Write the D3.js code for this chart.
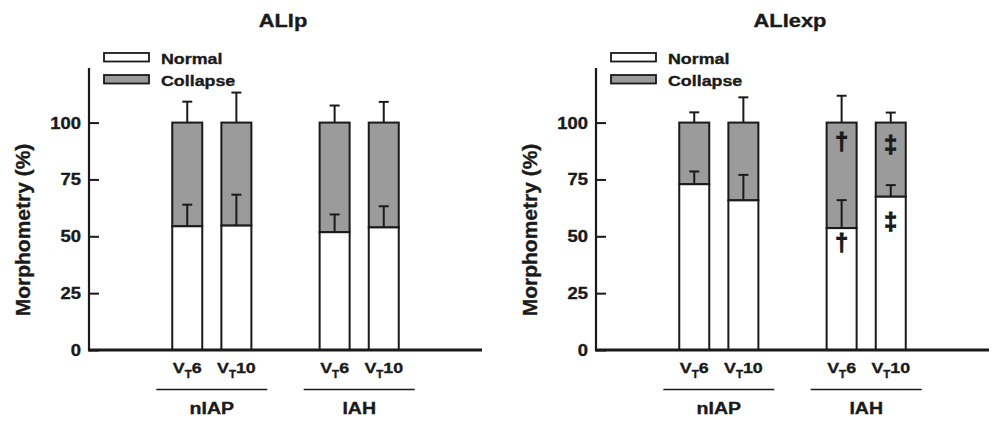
<!DOCTYPE html>
<html>
<head>
<meta charset="utf-8">
<script src="https://cdn.jsdelivr.net/npm/d3@7"></script>
<style>
  body { margin: 0; background: #fff; }
  text { font-family: "Liberation Sans", Arial, Helvetica, sans-serif; font-weight: bold; fill: #1a1a1a; stroke: #1a1a1a; stroke-width: 0.35px; }
</style>
</head>
<body>
<div id="chart"></div>
<script>
// values (percent)
const panelTitles = ["ALIp", "ALIexp"];
const groupNames = ["nIAP", "IAH"];
const volumeLabels = ["6", "10", "6", "10"];
const yTicks = [0, 25, 50, 75, 100];
const legendItems = ["Normal", "Collapse"];

const normalAlip = [54.4, 54.7, 51.8, 53.9];
const normalSdAlip = [9.5, 13.6, 7.8, 9.3];
const collapseSdAlip = [9.2, 13.2, 7.5, 9.1];

const normalAliexp = [72.9, 65.8, 53.6, 67.4];
const normalSdAliexp = [5.6, 11.2, 12.3, 5.1];
const collapseSdAliexp = [4.5, 11.1, 11.8, 4.4];

// significance marks (ALIexp only)
const marksAliexp = ["", "", "\u2020", "\u2021"];
const markNormalPosAliexp = [null, null, 47, 56.4];
const markCollapsePosAliexp = [null, null, 91.6, 90.3];

const panels = [
  { title: panelTitles[0], normal: normalAlip, nSd: normalSdAlip, cSd: collapseSdAlip, marks: null },
  { title: panelTitles[1], normal: normalAliexp, nSd: normalSdAliexp, cSd: collapseSdAliexp,
    marks: marksAliexp, mN: markNormalPosAliexp, mC: markCollapsePosAliexp }
];

const width = 994, height = 421;
const panelLeft = [89, 596];
const plotWidth = 393;
const slots = [2, 3, 5, 6];      // bar positions on the x scale
const groupCenters = [2.5, 5.5];
const ink = "#1a1a1a";
const gray = "#9b9b9b";
const sx = 1.15;                 // horizontal stretch of the printed lettering

const svg = d3.select("#chart").append("svg")
    .attr("width", width)
    .attr("height", height);

const y = d3.scaleLinear().domain([0, 124]).range([350, 68]);
const x = d3.scaleLinear().domain([0, 8]).range([0, plotWidth]);
const barW = 30;

function label(g, tx, ty, str, size, anchor) {
  return g.append("text")
      .attr("transform", `translate(${tx},${ty}) scale(${sx},1)`)
      .attr("text-anchor", anchor || "middle")
      .style("font-size", size + "px")
      .text(str);
}

panels.forEach((p, pi) => {
  const g = svg.append("g").attr("transform", `translate(${panelLeft[pi]},0)`);

  // title
  label(g, 194, 26.5, p.title, 19);

  // y axis
  const yAxis = d3.axisRight(y).tickValues(yTicks).tickSize(10).tickFormat("");
  const ax = g.append("g").call(yAxis);
  ax.select(".domain").remove();
  ax.selectAll(".tick line").attr("stroke", ink).attr("stroke-width", 2);
  g.append("line")
      .attr("x1", 0).attr("x2", 0)
      .attr("y1", y.range()[1]).attr("y2", y(0) + 1.5)
      .attr("stroke", ink).attr("stroke-width", 2.2);
  yTicks.forEach(t => {
    label(g, -8, y(t) + 6, String(t), 16, "end");
  });

  // y label
  g.append("text")
      .attr("transform", "translate(-59,230) rotate(-90)")
      .attr("text-anchor", "middle")
      .style("font-size", "21px")
      .text("Morphometry (%)");

  // legend
  legendItems.forEach((name, i) => {
    g.append("rect")
        .attr("x", 15).attr("y", 53 + i * 22)
        .attr("width", 45).attr("height", 8.5)
        .attr("fill", i === 0 ? "#fff" : gray)
        .attr("stroke", ink).attr("stroke-width", 1.8);
    label(g, 72, 64, name, 15.5, "start").attr("y", i * 22);
  });

  // bars
  p.normal.forEach((v, i) => {
    const cx = x(slots[i]);
    g.append("rect")
        .attr("x", cx - barW / 2).attr("y", y(100))
        .attr("width", barW).attr("height", y(v) - y(100))
        .attr("fill", gray).attr("stroke", ink).attr("stroke-width", 2);
    g.append("rect")
        .attr("x", cx - barW / 2).attr("y", y(v))
        .attr("width", barW).attr("height", y(0) - y(v))
        .attr("fill", "#fff").attr("stroke", ink).attr("stroke-width", 2);

    // error bars (upward only)
    [[v, p.nSd[i]], [100, p.cSd[i]]].forEach(([base, sd]) => {
      g.append("line")
          .attr("x1", cx).attr("x2", cx)
          .attr("y1", y(base)).attr("y2", y(base + sd))
          .attr("stroke", ink).attr("stroke-width", 2);
      g.append("line")
          .attr("x1", cx - 5).attr("x2", cx + 5)
          .attr("y1", y(base + sd)).attr("y2", y(base + sd))
          .attr("stroke", ink).attr("stroke-width", 2);
    });

    if (p.marks && p.marks[i]) {
      [p.mC[i], p.mN[i]].forEach(pos => {
        g.append("text").attr("x", cx).attr("y", y(pos) + 8)
            .attr("text-anchor", "middle")
            .style("font-size", "23px").style("stroke-width", "1.1px")
            .text(p.marks[i]);
      });
    }

    // V_T labels
    const t = g.append("text")
        .attr("transform", `translate(${cx},373) scale(${sx},1)`)
        .attr("text-anchor", "middle")
        .style("font-size", "15.5px");
    t.append("tspan").text("V");
    t.append("tspan").attr("dy", 5).style("font-size", "10px").text("T");
    t.append("tspan").attr("dy", -5).text(volumeLabels[i]);
  });

  // baseline
  g.append("line")
      .attr("x1", 0).attr("x2", plotWidth)
      .attr("y1", y(0)).attr("y2", y(0))
      .attr("stroke", ink).attr("stroke-width", 3);

  // group labels
  groupNames.forEach((name, j) => {
    const c = x(groupCenters[j]);
    g.append("line")
        .attr("x1", c - 55.5).attr("x2", c + 55.5)
        .attr("y1", 389.5).attr("y2", 389.5)
        .attr("stroke", ink).attr("stroke-width", 1.6);
    label(g, c, 414, name, 17);
  });
});
</script>
</body>
</html>
